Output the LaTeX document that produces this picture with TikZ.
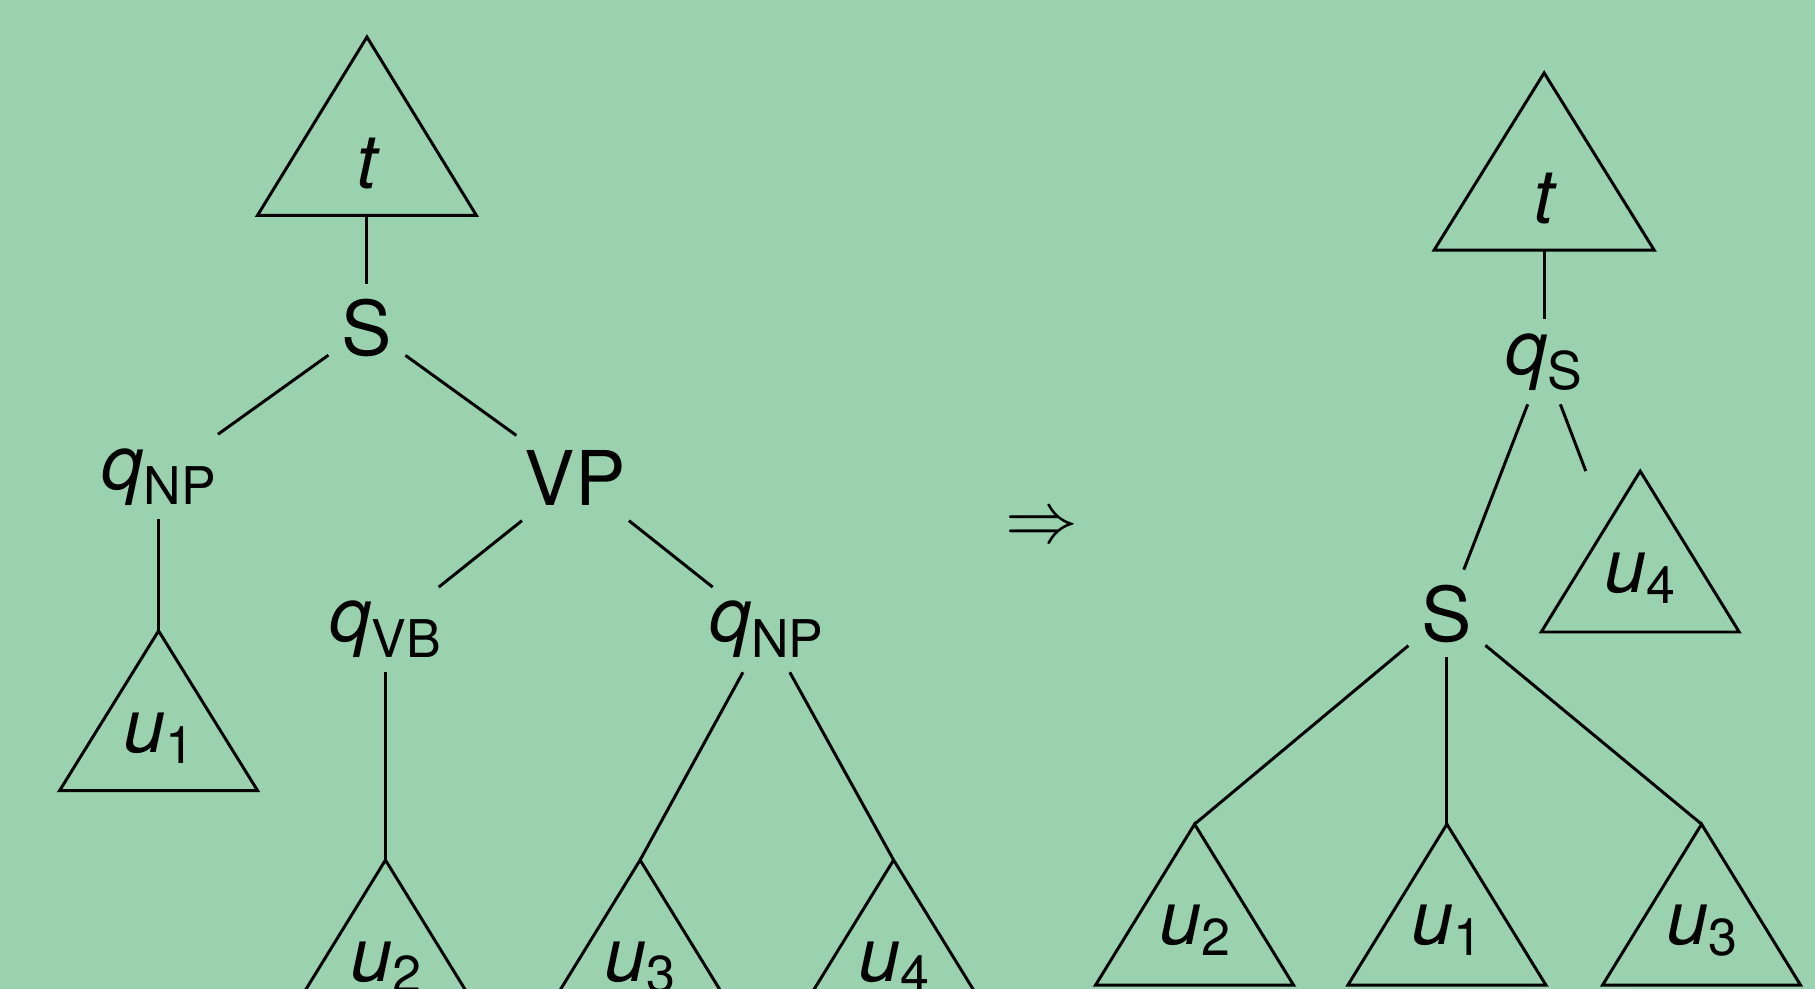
\documentclass[tikz,border=0pt]{standalone}
\usepackage{fontspec}
\setmainfont{TeX Gyre Heros}
\definecolor{bg}{RGB}{154,210,175}
% state symbol q with a lowered upright subscript
\newcommand\Qsub[1]{{\itshape q}\raisebox{-0.2em}{\fontsize{14.8}{18}\selectfont #1}}
% subtree symbol u with a lowered index
\newcommand\Usub[1]{{\itshape u}\raisebox{-0.15em}{\fontsize{14.8}{18}\selectfont #1}}
\begin{document}
\begin{tikzpicture}[x=0.011575cm, y=-0.011575cm, line width=0.85pt,
  lbl/.style={font=\fontsize{21.5}{26}\selectfont, inner sep=0pt,
    minimum height=71*0.011575cm, minimum width=120*0.011575cm},
  cat/.style={lbl, minimum width=64*0.011575cm, minimum height=73*0.011575cm},
  leaf/.style={font=\fontsize{21.5}{26}\selectfont, inner sep=0pt, anchor=base},
]
\fill[bg] (0,0) rectangle (1568,854);
\useasboundingbox (0,0) rectangle (1568,854);
\clip (0,0) rectangle (1568,854);

% ---------- left tree ----------
\coordinate (tL-apex) at (317,32);
\coordinate (tL-base) at (317,186);
\draw (tL-apex) -- ++(-94.5,154) -- ++(189,0) -- cycle;
\node[leaf] (tL) at (317,163) {\itshape t};

\node[cat] (SL) at (317,283) {S};
\node[lbl] (qNPL) at (137,412) {\Qsub{NP}};
\node[lbl] (VP) at (497,413) {VP};
\node[lbl] (qVB) at (333,544) {\Qsub{VB}};
\node[lbl] (qNPR) at (662,544) {\Qsub{NP}};

\coordinate (u1L-apex) at (137,545);
\draw (u1L-apex) -- ++(-85.5,138) -- ++(171,0) -- cycle;
\node[leaf] (u1L) at (137,650) {\Usub{1}};

\coordinate (u2L-apex) at (333,743);
\draw (u2L-apex) -- ++(-85.5,139) -- ++(171,0) -- cycle;
\node[leaf] (u2L) at (333,848) {\Usub{2}};

\coordinate (u3L-apex) at (553,743);
\draw (u3L-apex) -- ++(-85.5,139) -- ++(171,0) -- cycle;
\node[leaf] (u3L) at (553,848) {\Usub{3}};

\coordinate (u4L-apex) at (772,743);
\draw (u4L-apex) -- ++(-85.5,139) -- ++(171,0) -- cycle;
\node[leaf] (u4L) at (772,848) {\Usub{4}};

\draw (tL-base) -- (SL);
\draw (SL) -- (qNPL);
\draw (SL) -- (VP);
\draw (qNPL) -- (u1L-apex);
\draw (VP) -- (qVB);
\draw (VP) -- (qNPR);
\draw (qVB) -- (u2L-apex);
\draw (qNPR) -- (u3L-apex);
\draw (qNPR) -- (u4L-apex);

% ---------- rewriting arrow ----------
\node[font=\fontsize{21}{25}\selectfont, inner sep=0pt] (arr) at (900,457) {$\Rightarrow$};

% ---------- right tree ----------
\coordinate (tR-apex) at (1334,63);
\coordinate (tR-base) at (1334,216);
\draw (tR-apex) -- ++(-95,153) -- ++(190,0) -- cycle;
\node[leaf] (tR) at (1334,193) {\itshape t};

\node[lbl] (qS) at (1334,312.5) {\Qsub{S}};
\node[cat] (SR) at (1250,530) {S};
\coordinate (qS-free) at (1370,407);

\coordinate (u4R-apex) at (1417,407);
\draw (u4R-apex) -- ++(-85.5,139) -- ++(171,0) -- cycle;
\node[leaf] (u4R) at (1417,512) {\Usub{4}};

\coordinate (u2R-apex) at (1032,712);
\draw (u2R-apex) -- ++(-85.5,139) -- ++(171,0) -- cycle;
\node[leaf] (u2R) at (1032,816) {\Usub{2}};

\coordinate (u1R-apex) at (1250,712);
\draw (u1R-apex) -- ++(-85.5,139) -- ++(171,0) -- cycle;
\node[leaf] (u1R) at (1250,816) {\Usub{1}};

\coordinate (u3R-apex) at (1470,712);
\draw (u3R-apex) -- ++(-85.5,139) -- ++(171,0) -- cycle;
\node[leaf] (u3R) at (1470,816) {\Usub{3}};

\draw (tR-base) -- (qS);
\draw (qS) -- (SR);
\draw (qS) -- (qS-free);
\draw (SR) -- (u2R-apex);
\draw (SR) -- (u1R-apex);
\draw (SR) -- (u3R-apex);
\end{tikzpicture}
\end{document}
